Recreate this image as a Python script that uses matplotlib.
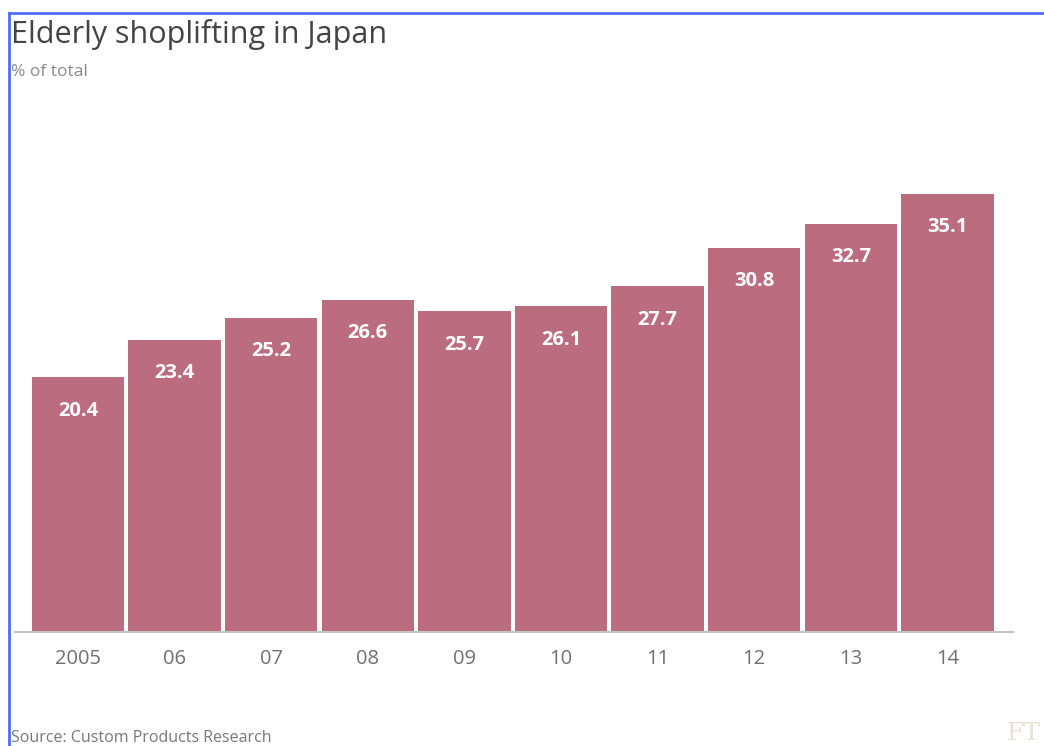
import matplotlib
matplotlib.use("Agg")
import matplotlib.pyplot as plt
from matplotlib.lines import Line2D

years = ["2005", "06", "07", "08", "09", "10", "11", "12", "13", "14"]
values = [20.4, 23.4, 25.2, 26.6, 25.7, 26.1, 27.7, 30.8, 32.7, 35.1]

W, H = 1044, 746
fig = plt.figure(figsize=(W / 100, H / 100), dpi=100)
plt.rcParams['font.family'] = ['Open Sans', 'DejaVu Sans']

ax_left, ax_right = 15 / W, 1013 / W
ax_bottom, ax_top = (H - 632) / H, (H - 100) / H
ax = fig.add_axes([ax_left, ax_bottom, ax_right - ax_left, ax_top - ax_bottom])

x = list(range(len(years)))
bar_color = "#bc6c7f"
ax.bar(x, values, width=0.955, color=bar_color, zorder=2)
ax.set_xlim(-0.652, 9.679)
ax.set_ylim(0, 42.63)

for xi, v in zip(x, values):
    ax.annotate(f"{v:.1f}", (xi, v), xytext=(0, -24), textcoords="offset points",
                ha="center", va="center", color="white", fontsize=14.5,
                fontweight="bold")

for s in ["top", "right", "left"]:
    ax.spines[s].set_visible(False)
ax.spines["bottom"].set_color("#c4c4c4")
ax.spines["bottom"].set_linewidth(1.5)
ax.set_yticks([])
ax.set_xticks(x)
ax.set_xticklabels(years, fontsize=14.5, color="#707070")
ax.tick_params(axis="x", length=0, pad=12)

# Title and subtitle
fig.text(11 / W, 1 - 35 / H, "Elderly shoplifting in Japan", fontsize=22,
         color="#444444", va="center", ha="left")
fig.text(11 / W, 1 - 72 / H, "% of total", fontsize=12.5,
         color="#888888", va="center", ha="left")
fig.text(11 / W, 1 - 738 / H, "Source: Custom Products Research", fontsize=11.5,
         color="#777777", va="center", ha="left")
fig.text(1040 / W, 1 - 733 / H, "FT", fontsize=18, family="DejaVu Serif",
         color="#eadfd0", va="center", ha="right")

# Blue frame lines (top and left)
fig.add_artist(Line2D([9 / W, 1], [1 - 13 / H, 1 - 13 / H], color="#4d6df5",
                      linewidth=2, transform=fig.transFigure))
fig.add_artist(Line2D([9 / W, 9 / W], [0, 1 - 13 / H], color="#4d6df5",
                      linewidth=2, transform=fig.transFigure))

fig.savefig("out.png", dpi=100)
